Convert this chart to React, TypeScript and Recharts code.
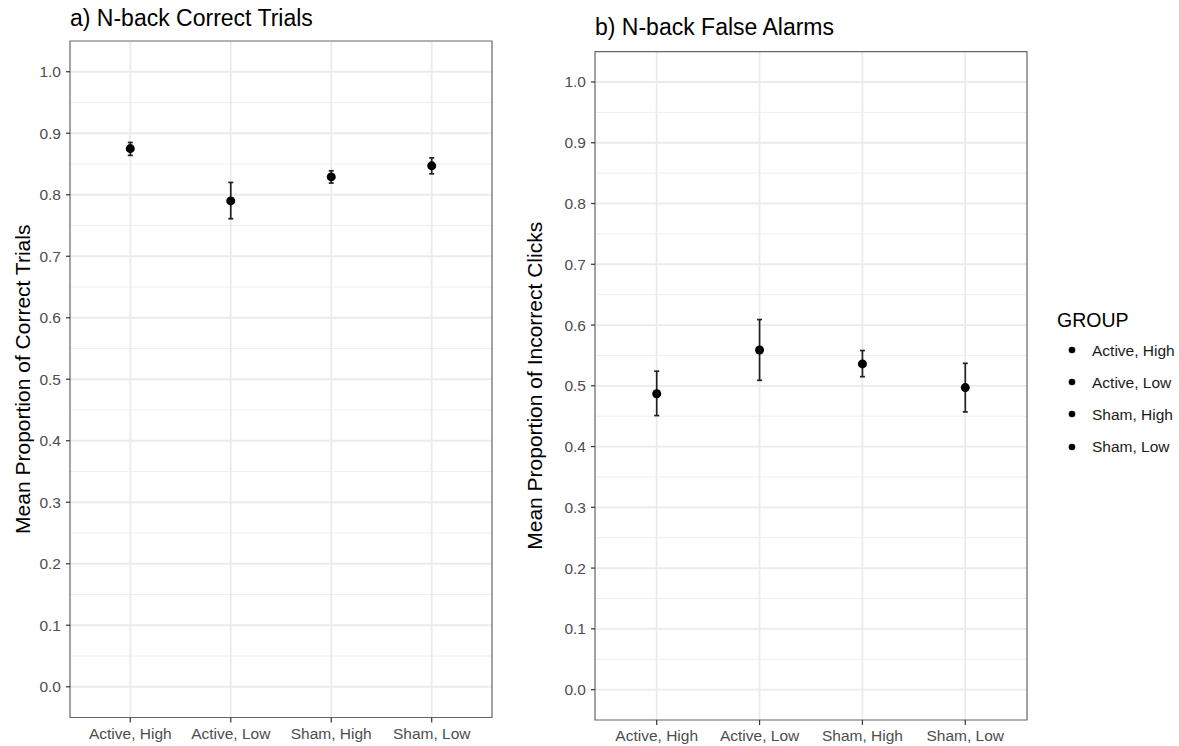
import {
  ScatterChart,
  Scatter,
  XAxis,
  YAxis,
  ZAxis,
  CartesianGrid,
  ErrorBar,
  ReferenceArea,
  Legend,
} from "recharts";

// group labels on the x axis
const groups = ["Active, High", "Active, Low", "Sham, High", "Sham, Low"];

// a) correct trials: mean with lower / upper error bounds
const correctMean = [0.875, 0.79, 0.829, 0.847];
const correctLow = [0.864, 0.761, 0.819, 0.834];
const correctHigh = [0.885, 0.82, 0.839, 0.86];

// b) false alarms: mean with lower / upper error bounds
const falseMean = [0.487, 0.559, 0.536, 0.497];
const falseLow = [0.451, 0.509, 0.515, 0.457];
const falseHigh = [0.524, 0.609, 0.558, 0.537];

const yTicks = [0, 0.1, 0.2, 0.3, 0.4, 0.5, 0.6, 0.7, 0.8, 0.9, 1.0];
const yMinor = [0.05, 0.15, 0.25, 0.35, 0.45, 0.55, 0.65, 0.75, 0.85, 0.95];
const xPos = [1, 2, 3, 4];

const FONT = "'Liberation Sans', Arial, Helvetica, sans-serif";

const buildRows = (mean: number[], low: number[], high: number[]) =>
  groups.map((g, i) => ({
    x: xPos[i],
    y: mean[i],
    err: [mean[i] - low[i], high[i] - mean[i]],
    group: g,
  }));

const correctData = buildRows(correctMean, correctLow, correctHigh);
const falseData = buildRows(falseMean, falseLow, falseHigh);

const AxisTitle = (props: any) => {
  const vb = props.viewBox;
  const cy = vb && vb.height ? vb.y + vb.height / 2 : props.cy;
  const x = props.tx;
  return (
    <text
      x={x}
      y={cy}
      transform={`rotate(-90 ${x} ${cy})`}
      textAnchor="middle"
      fontSize={21}
      fill="#000"
      style={{ fontFamily: FONT }}
    >
      {props.text}
    </text>
  );
};

const GroupLegend = () => (
  <div style={{ position: "relative", width: 140, height: 170, fontFamily: FONT }}>
    <div style={{ position: "absolute", left: 0, top: 10, fontSize: 19.5, lineHeight: "20px", color: "#000" }}>
      GROUP
    </div>
    {groups.map((g, i) => (
      <div key={g}>
        <svg
          width={10}
          height={10}
          style={{ position: "absolute", left: 10, top: 45 + i * 32.2 }}
        >
          <circle cx={5} cy={5} r={3.3} fill="#000" />
        </svg>
        <div
          style={{
            position: "absolute",
            left: 35,
            top: 42.6 + i * 32.2,
            fontSize: 15.5,
            lineHeight: "16px",
            color: "#1a1a1a",
            whiteSpace: "nowrap",
          }}
        >
          {g}
        </div>
      </div>
    ))}
  </div>
);

function Panel(props: {
  data: any[];
  width: number;
  margin: any;
  label: string;
  labelX: number;
  labelCy: number;
  legend?: boolean;
}) {
  const { data, width, margin, label, labelX, labelCy, legend } = props;
  return (
    <ScatterChart width={width} height={746} margin={margin}>
      <CartesianGrid
        horizontalValues={yMinor}
        vertical={false}
        stroke="#eeeeee"
        strokeWidth={1}
      />
      <CartesianGrid
        horizontalValues={yTicks}
        verticalValues={xPos}
        stroke="#ebebeb"
        strokeWidth={1.8}
      />
      <XAxis
        type="number"
        dataKey="x"
        domain={[0.4, 4.6]}
        ticks={xPos}
        interval={0}
        allowDataOverflow
        height={20}
        axisLine={false}
        tickSize={5}
        tickMargin={5}
        tickLine={{ stroke: "#333", strokeWidth: 1.2 }}
        tick={{ fill: "#4d4d4d", fontSize: 15.5 }}
        tickFormatter={(v: number) => groups[v - 1]}
      />
      <YAxis
        type="number"
        dataKey="y"
        domain={[-0.05, 1.05]}
        ticks={yTicks}
        interval={0}
        allowDataOverflow
        width={40}
        axisLine={false}
        tickSize={4}
        tickMargin={5}
        tickLine={{ stroke: "#333", strokeWidth: 1.2 }}
        tick={{ fill: "#4d4d4d", fontSize: 15.5 }}
        tickFormatter={(v: number) => v.toFixed(1)}
        label={<AxisTitle text={label} tx={labelX} cy={labelCy} />}
      />
      <ZAxis range={[76, 76]} />
      <ReferenceArea
        x1={0.4}
        x2={4.6}
        y1={-0.05}
        y2={1.05}
        fill="none"
        fillOpacity={0}
        stroke="#666"
        strokeWidth={1.2}
      />
      <Scatter data={data} fill="#000" isAnimationActive={false}>
        <ErrorBar
          dataKey="err"
          direction="y"
          width={2.5}
          stroke="#222"
          strokeWidth={1.7}
          isAnimationActive={false}
        />
      </Scatter>
      {legend && (
        <Legend
          layout="vertical"
          align="center"
          verticalAlign="middle"
          content={<GroupLegend />}
          wrapperStyle={{ left: 537, top: 300, width: 140, height: 170 }}
        />
      )}
    </ScatterChart>
  );
}

export default function App() {
  return (
    <div
      style={{
        position: "absolute",
        left: 0,
        top: 0,
        width: 1179,
        height: 746,
        background: "#fff",
        fontFamily: FONT,
      }}
    >
      <div
        style={{
          position: "absolute",
          left: 70,
          top: 7.4,
          fontSize: 23,
          lineHeight: "23px",
          color: "#000",
          whiteSpace: "nowrap",
        }}
      >
        a) N-back Correct Trials
      </div>
      <div
        style={{
          position: "absolute",
          left: 595,
          top: 16.2,
          fontSize: 23,
          lineHeight: "23px",
          color: "#000",
          whiteSpace: "nowrap",
        }}
      >
        b) N-back False Alarms
      </div>
      <div style={{ position: "absolute", left: 0, top: 0 }}>
        <Panel
          data={correctData}
          width={520}
          margin={{ top: 41, right: 28, bottom: 8.5, left: 30 }}
          label="Mean Proportion of Correct Trials"
          labelX={29.5}
          labelCy={383}
        />
      </div>
      <div style={{ position: "absolute", left: 520, top: 0 }}>
        <Panel
          data={falseData}
          width={659}
          margin={{ top: 51.6, right: 152, bottom: 6, left: 35 }}
          label="Mean Proportion of Incorrect Clicks"
          labelX={22.5}
          labelCy={386}
          legend
        />
      </div>
    </div>
  );
}
